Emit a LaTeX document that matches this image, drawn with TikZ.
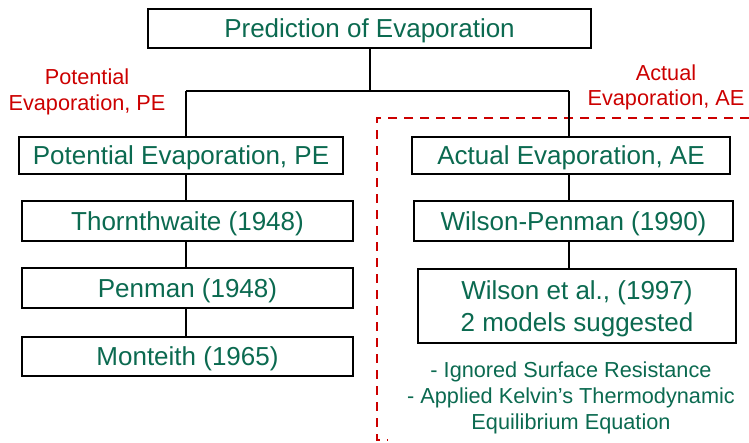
\documentclass[tikz,border=0pt]{standalone}
\usepackage{fontspec}
\setmainfont{Liberation Sans}
\definecolor{tgreen}{HTML}{0B6A50}
\definecolor{tred}{HTML}{CC0000}
\begin{document}
\begin{tikzpicture}[x=1pt,y=-1pt,
  box/.style={draw=black,line width=2pt,fill=white,inner sep=0pt,text=tgreen,
    font=\fontsize{26}{31.5}\selectfont,align=center,text depth=0pt},
  conn/.style={draw=black,line width=2pt},
  redlab/.style={text=tred,font=\fontsize{21.7}{25.5}\selectfont,align=center,inner sep=0pt},
  note/.style={text=tgreen,font=\fontsize{21.7}{26}\selectfont,align=center,inner sep=0pt},
  reddash/.style={draw=tred,line width=2.4pt,dash pattern=on 9pt off 7pt}]
\useasboundingbox (0,0) rectangle (749,442);
\draw[reddash] (749,118) -- (377,118) -- (377,440) -- (388,440);
\node[box,minimum width=443pt,minimum height=39pt,text height=18.6pt] (top) at (369.5,28.5) {Prediction of Evaporation};
\node[box,minimum width=324pt,minimum height=37pt,text height=18.6pt] (pe) at (181,155.5) {Potential Evaporation, PE};
\node[box,minimum width=331pt,minimum height=40pt,text height=18.6pt] (th) at (187.5,221) {Thornthwaite (1948)};
\node[box,minimum width=331pt,minimum height=40pt,text height=18.6pt] (pm) at (187.5,288) {Penman (1948)};
\node[box,minimum width=331pt,minimum height=39pt,text height=18.6pt] (mo) at (187.5,356.5) {Monteith (1965)};
\node[box,minimum width=318pt,minimum height=37pt,text height=18.6pt] (ae) at (571,155.5) {Actual Evaporation, AE};
\node[box,minimum width=319pt,minimum height=40pt,text height=18.6pt] (wp) at (573.5,221) {Wilson-Penman (1990)};
\node[box,minimum width=318pt,minimum height=74pt] (we) at (577,306) {Wilson et al., (1997)\\2 models suggested};
\node[redlab] (lpe) at (87,92) {Potential\\Evaporation, PE};
\node[redlab] (lae) at (666,87.5) {Actual\\Evaporation, AE};
\node[note] (nt) at (571,398) {- Ignored Surface Resistance\\- Applied Kelvin’s Thermodynamic\\Equilibrium Equation};
\coordinate (jl) at (186,91);
\coordinate (jr) at (569,91);
\draw[conn] (top.south) -- (top.south |- jl);
\draw[conn] (jl) -- (jr);
\draw[conn] (jl) -- (jl |- pe.north);
\draw[conn] (jr) -- (jr |- ae.north);
\draw[conn] (jl |- pe.south) -- (jl |- th.north);
\draw[conn] (jl |- th.south) -- (jl |- pm.north);
\draw[conn] (jl |- pm.south) -- (jl |- mo.north);
\draw[conn] (jr |- ae.south) -- (jr |- wp.north);
\draw[conn] (jr |- wp.south) -- (jr |- we.north);
\end{tikzpicture}
\end{document}
